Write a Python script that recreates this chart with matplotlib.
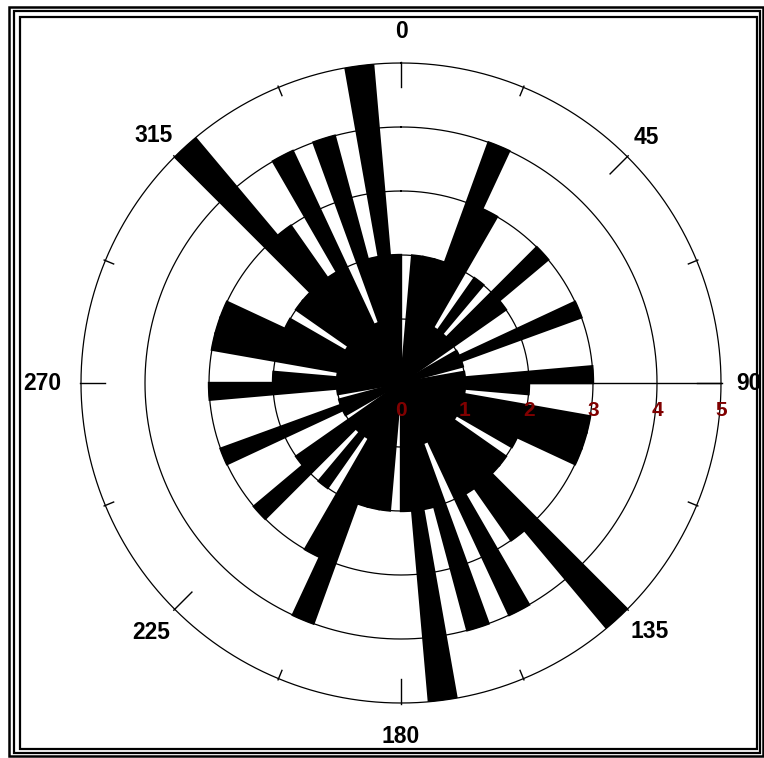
import numpy as np
import matplotlib
matplotlib.use("Agg")
import matplotlib.pyplot as plt
import matplotlib.transforms as mtransforms
from matplotlib.patches import Rectangle

# rose diagram data: 5 degree bins from 0 to 180, drawn bidirectional
bin_start = np.arange(0, 180, 5)
counts = [0, 2, 2, 2, 4, 3, 1, 2, 1, 3, 2, 0,
          1, 3, 1, 0, 1, 3, 2, 1, 3, 3, 3, 2,
          1, 2, 2, 5, 3, 2, 4, 1, 4, 2, 5, 2]
bin_width = 5
angle_labels = [0, 45, 90, 135, 180, 225, 270, 315]
radius_labels = [0, 1, 2, 3, 4, 5]

W, H = 764, 758
fig = plt.figure(figsize=(W / 100, H / 100), dpi=100)
fig.patch.set_facecolor("white")

# center of the rose at (401, 383) px, outer ring radius 320 px
cx, cy, R = 401, 383, 320
ax = fig.add_axes([(cx - R) / W, (H - cy - R) / H, 2 * R / W, 2 * R / H],
                  projection="polar")
ax.set_theta_zero_location("N")
ax.set_theta_direction(-1)
ax.set_ylim(0, 5)
ax.grid(False)
ax.set_xticks([])
ax.set_yticks([])
ax.spines["polar"].set_visible(False)
ax.patch.set_alpha(0)

# rings and radial axis
t = np.linspace(0, 2 * np.pi, 721)
for r in range(1, 6):
    ax.plot(t, np.full_like(t, r), color="black", lw=0.9, zorder=1, clip_on=False)
ax.plot([np.pi / 2, np.pi / 2], [0, 5], color="black", lw=1.0, zorder=1, clip_on=False)

# tick marks on the outer ring
for a in np.arange(0, 360, 22.5):
    inner = 4.62 if a % 45 == 0 else 4.86
    ax.plot([np.deg2rad(a)] * 2, [inner, 5.02], color="black", lw=1.0,
            zorder=1, clip_on=False)

# petals (both directions)
theta = np.deg2rad(np.concatenate([bin_start, bin_start + 180]))
heights = np.concatenate([counts, counts])
ax.bar(theta, heights, width=np.deg2rad(bin_width), bottom=0, align="edge",
       color="black", edgecolor="black", linewidth=1.7, zorder=2)

# angle labels, a bit further out where the text is wider
label_r = {0: 5.49, 45: 5.42, 90: 5.43, 135: 5.49,
           180: 5.52, 225: 5.52, 270: 5.6, 315: 5.47}
for a in angle_labels:
    ax.text(np.deg2rad(a), label_r[a], str(a), ha="center", va="center",
            fontsize=16.5, fontweight="bold", family="Liberation Sans",
            color="black", clip_on=False, zorder=5)

# radius labels below the 90 degree axis
off = mtransforms.offset_copy(ax.transData, fig=fig, x=0, y=-27, units="dots")
for r in radius_labels:
    ax.text(np.pi / 2, r, str(r), transform=off, ha="center", va="center",
            fontsize=15, fontweight="bold", family="Liberation Sans",
            color="#800000", clip_on=False, zorder=6)

# double frame around the picture
def frame(x0, y0, x1, y1, lw, color):
    fig.add_artist(Rectangle((x0 / W, 1 - y1 / H), (x1 - x0) / W, (y1 - y0) / H,
                             transform=fig.transFigure, fill=False,
                             edgecolor=color, linewidth=lw))

frame(9, 7, 762.5, 756, 1.8, "black")
frame(13.5, 11, 760, 752.5, 1.6, "black")
frame(20, 17, 757, 749, 1.6, "black")

fig.savefig("out.png", dpi=100, facecolor="white")
